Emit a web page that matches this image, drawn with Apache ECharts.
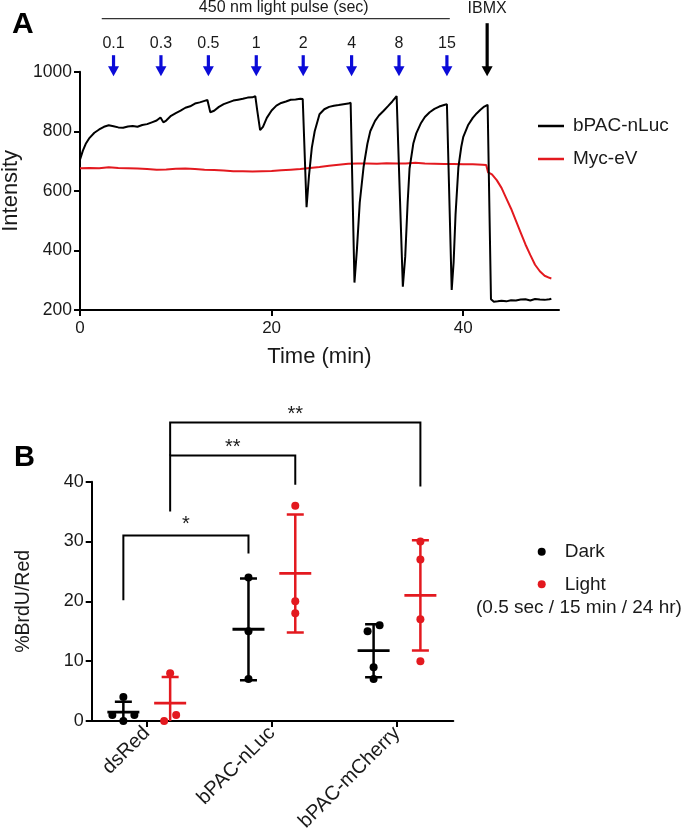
<!DOCTYPE html>
<html><head><meta charset="utf-8">
<script src="https://cdn.jsdelivr.net/npm/echarts@6.0.0/dist/echarts.min.js"></script>
<style>html,body{margin:0;padding:0;background:#fff}#c{width:693px;height:830px}</style>
</head><body><div id="c"></div>
<script>
const FONT = '"Liberation Sans", Arial, Helvetica, sans-serif';
const TXT = '#1a1a1a';
const RED = '#e3191f';
const BLUE = '#0b0bd8';

// ---------- Panel A data ----------
const bpacTrace = [
 [0,705],[0.3,735],[0.6,758],[1,778],[1.5,795],[2,806],[2.5,815],[3,820],[3.5,817],[4,813],
 [4.5,812],[5,816],[5.5,818],[6,815],[6.5,821],[7,824],[7.5,830],[8,836],[8.4,846],[8.7,830],
 [9,836],[9.5,852],[10,861],[10.5,869],[11,879],[11.5,884],[12,893],[12.5,897],[13,902],[13.3,905],
 [13.6,864],[14,869],[14.5,882],[15,891],[15.5,897],[16,903],[16.5,906],[17,909],[17.5,913],[18,914],
 [18.3,918],[18.5,870],[18.8,804],[19.1,815],[19.5,845],[20,870],[20.5,886],[21,895],[21.5,900],[22,906],
 [22.5,907],[23,909],[23.25,908],[23.65,545],[23.9,650],[24.2,745],[24.5,800],[25,857],[25.5,874],[26,882],
 [26.5,886],[27,888],[27.5,891],[28,893],[28.25,896],[28.65,292],[28.9,400],[29.2,560],[29.6,680],[30,758],
 [30.3,800],[30.8,835],[31.2,853],[31.7,869],[32.2,886],[32.6,900],[33.05,918],[33.7,278],[33.95,380],[34.2,560],
 [34.4,675],[34.8,760],[35.1,793],[35.6,828],[36,848],[36.5,864],[37,875],[37.5,883],[38,888],[38.3,891],
 [38.8,267],[39,360],[39.2,520],[39.5,680],[39.8,748],[40,780],[40.5,820],[41,845],[41.4,860],[41.8,872],
 [42.2,883],[42.55,889],[42.9,236],[43.2,228],[43.6,229],[44,231],[44.5,229],[45,233],[45.5,232],[46,235],
 [46.5,236],[47,232],[47.5,237],[48,235],[48.5,234],[49,236],[49.2,238]
];
const mycTrace = [
 [0,676],[1,677],[2,676],[3,679],[4,677],[5,676],[6,675],[7,673],[8,671],[9,672],[10,674],[11,675],
 [12,673],[13,671],[14,670],[15,668],[16,666],[17,666],[18,665],[19,666],[20,667],[21,669],[22,671],
 [23,673],[24,677],[25,680],[26,684],[27,688],[28,691],[29,692],[30,692],[31,691],[32,693],[33,692],
 [34,692],[35,694],[36,692],[37,691],[38,690],[39,690],[40,689],[41,689],[42,688],[42.4,687],[42.6,662],
 [43,655],[43.5,636],[44,610],[44.5,575],[45,540],[45.5,500],[46,460],[46.5,420],[47,385],[47.5,352],
 [48,330],[48.5,315],[49,308],[49.2,306]
];
const pulseTimes = [3.5, 8.45, 13.4, 18.4, 23.3, 28.35, 33.3, 38.3];
const pulseLabels = ['0.1','0.3','0.5','1','2','4','8','15'];
const ibmxTime = 42.5;
const pulseSpan = [2.27, 38.6];
const timeTicks = [0, 20, 40];

// ---------- Panel B data ----------
const categories = ['dsRed', 'bPAC-nLuc', 'bPAC-mCherry'];
const darkValues = [[4,1,1,0],[24,15,7],[16,15,9,7]];
const lightValues = [[8,1,0],[36,20,18],[30,27,17,10]];
const brackets = [
 {from:[0,'dark'], to:[1,'dark'], y0:20.2, top:31, y1:28, labelY:33.6, label:'*'},
 {from:[0,'light'], to:[1,'light'], y0:35, top:44.4, y1:39.5, labelY:46.4, label:'**'},
 {from:[0,'light'], to:[2,'light'], y0:44.4, top:49.9, y1:39.2, labelY:51.9, label:'**'}
];

const GROUP_OFF = 0.187;
function groupX(ci, cond){ return ci + (cond === 'dark' ? -GROUP_OFF : GROUP_OFF); }
function mean(a){ return a.reduce((s,v)=>s+v,0)/a.length; }
function sd(a){ const m = mean(a); return Math.sqrt(a.reduce((s,v)=>s+(v-m)*(v-m),0)/(a.length-1)); }
function jitter(vals){
  const idx = vals.map((v,i)=>i).sort((a,b)=>vals[a]-vals[b]);
  const out = new Array(vals.length).fill(0);
  const clusters = []; let cur = [idx[0]];
  for (let k=1;k<idx.length;k++){
    if (vals[idx[k]] - vals[idx[k-1]] < 1.4) cur.push(idx[k]); else { clusters.push(cur); cur=[idx[k]]; }
  }
  clusters.push(cur);
  clusters.forEach(c=>{
    if (c.length===2){ out[c[0]] = -0.048; out[c[1]] = 0.048; }
    else if (c.length===3){ out[c[0]] = 0; out[c[1]] = -0.088; out[c[2]] = 0.088; }
  });
  return out;
}
function scatterData(groups, cond){
  const d = [];
  groups.forEach((vals, ci)=>{
    const j = jitter(vals);
    vals.forEach((v,i)=> d.push([groupX(ci,cond)+j[i], v]));
  });
  return d;
}
function statData(groups, cond){
  return groups.map((vals, ci)=> [groupX(ci,cond), mean(vals), sd(vals)]);
}
function errRender(color){
  return function(params, api){
    const x = api.value(0), m = api.value(1), s = api.value(2);
    const c = api.coord([x, m]), t = api.coord([x, m+s]), b = api.coord([x, m-s]);
    const st = {stroke: color, lineWidth: 2.5, fill: null};
    return {type:'group', children:[
      {type:'line', shape:{x1:c[0], y1:t[1], x2:c[0], y2:b[1]}, style:st},
      {type:'line', shape:{x1:c[0]-8.5, y1:t[1], x2:c[0]+8.5, y2:t[1]}, style:st},
      {type:'line', shape:{x1:c[0]-8.5, y1:b[1], x2:c[0]+8.5, y2:b[1]}, style:st},
      {type:'line', shape:{x1:c[0]-16, y1:c[1], x2:c[0]+16, y2:c[1]}, style:{stroke: color, lineWidth: 2.8}}
    ]};
  };
}

const chart = echarts.init(document.getElementById('c'), null, {renderer:'canvas'});
const axisCommon = {
  axisLine:{show:true, onZero:false, lineStyle:{color:'#000', width:2}},
  axisTick:{show:true, length:6, lineStyle:{color:'#000', width:2}},
  splitLine:{show:false},
};

chart.setOption({
  backgroundColor:'#fff',
  animation:false,
  textStyle:{fontFamily:FONT},
  grid:[
    {left:80, top:71.7, width:479, height:238.3, containLabel:false, outerBoundsMode:'none'},
    {left:91.7, top:481.7, width:361.6, height:239.3, containLabel:false, outerBoundsMode:'none'}
  ],
  xAxis:[
    Object.assign({}, axisCommon, {
      gridIndex:0, type:'value', min:0, max:50,
      axisTick:{show:true, length:6, customValues:timeTicks, lineStyle:{color:'#000', width:2}},
      axisLabel:{customValues:timeTicks, fontSize:17, color:TXT, margin:10, fontFamily:FONT},
      name:'Time (min)', nameLocation:'middle', nameGap:36,
      nameTextStyle:{fontSize:22, color:TXT, fontFamily:FONT}
    }),
    Object.assign({}, axisCommon, {
      gridIndex:1, type:'value', min:-0.44, max:2.45,
      axisTick:{show:true, length:6, customValues:[0,1,2], lineStyle:{color:'#000', width:2}},
      axisLabel:{customValues:[0,1,2], rotate:45, fontSize:20, color:TXT, margin:9, fontFamily:FONT,
        formatter: v => categories[Math.round(v)]}
    })
  ],
  yAxis:[
    Object.assign({}, axisCommon, {
      gridIndex:0, type:'value', min:200, max:1000, interval:200,
      axisLabel:{fontSize:17.5, color:TXT, margin:8, fontFamily:FONT, formatter: v => String(v)},
      name:'Intensity', nameLocation:'middle', nameGap:56,
      nameTextStyle:{fontSize:22, color:TXT, fontFamily:FONT}
    }),
    Object.assign({}, axisCommon, {
      gridIndex:1, type:'value', min:0, max:40, interval:10,
      axisLabel:{fontSize:18, color:TXT, margin:8, fontFamily:FONT, formatter: v => String(v)},
      name:'%BrdU/Red', nameLocation:'middle', nameGap:58,
      nameTextStyle:{fontSize:19.5, color:TXT, fontFamily:FONT}
    })
  ],
  legend:[
    {data:['bPAC-nLuc','Myc-eV'], orient:'vertical', left:533, top:111, icon:'rect',
     itemWidth:26, itemHeight:2.5, itemGap:13, selectedMode:false,
     textStyle:{fontSize:19, lineHeight:20, color:TXT, fontFamily:FONT, padding:[0,0,0,4]}},
    {data:['Dark','Light'], orient:'vertical', left:532.7, top:536.7, icon:'circle',
     itemWidth:8, itemHeight:8, itemGap:12.6, selectedMode:false,
     textStyle:{fontSize:19, lineHeight:20, color:TXT, fontFamily:FONT, padding:[0,0,0,14]}}
  ],
  graphic:[
    {type:'text', left:12, top:10, style:{text:'A', font:'bold 30px '+FONT, fill:'#000'}},
    {type:'text', left:14, top:443, style:{text:'B', font:'bold 29px '+FONT, fill:'#000'}},
    {type:'text', left:476, top:598, style:{text:'(0.5 sec / 15 min / 24 hr)', font:'19px '+FONT, fill:TXT}}
  ],
  series:[
    {name:'bPAC-nLuc', type:'line', xAxisIndex:0, yAxisIndex:0, data:bpacTrace, showSymbol:false,
     color:'#000', lineStyle:{color:'#000', width:2}, z:3},
    {name:'Myc-eV', type:'line', xAxisIndex:0, yAxisIndex:0, data:mycTrace, showSymbol:false,
     color:RED, lineStyle:{color:RED, width:2}, z:2},
    {name:'pulses', type:'custom', xAxisIndex:0, yAxisIndex:0, clip:false,
     data: pulseTimes.map((t,i)=>[t, 1000, i]),
     renderItem:(params, api)=>{
       const p = api.coord([api.value(0), api.value(1)]);
       const x = p[0], tip = p[1] + 4.5;
       return {type:'group', children:[
         {type:'rect', shape:{x:x-1.6, y:tip-21, width:3.2, height:12}, style:{fill:BLUE}},
         {type:'polygon', shape:{points:[[x-5.5,tip-10],[x+5.5,tip-10],[x,tip]]}, style:{fill:BLUE}},
         {type:'text', style:{text:pulseLabels[api.value(2)], x:x, y:tip-33, textAlign:'center',
           textVerticalAlign:'middle', font:'16px '+FONT, fill:TXT}}
       ]};
     }},
    {name:'ibmx', type:'custom', xAxisIndex:0, yAxisIndex:0, clip:false,
     data:[[ibmxTime, 1000]],
     renderItem:(params, api)=>{
       const p = api.coord([api.value(0), api.value(1)]);
       const x = p[0], tip = p[1] + 4.5;
       return {type:'group', children:[
         {type:'rect', shape:{x:x-1.6, y:tip-53, width:3.2, height:44}, style:{fill:'#000'}},
         {type:'polygon', shape:{points:[[x-5.5,tip-10],[x+5.5,tip-10],[x,tip]]}, style:{fill:'#000'}},
         {type:'text', style:{text:'IBMX', x:x, y:tip-68, textAlign:'center',
           textVerticalAlign:'middle', font:'16px '+FONT, fill:TXT}}
       ]};
     }},
    {name:'pulseTitle', type:'custom', xAxisIndex:0, yAxisIndex:0, clip:false,
     data:[[pulseSpan[0], 1000, pulseSpan[1]]],
     renderItem:(params, api)=>{
       const a = api.coord([api.value(0), api.value(1)]);
       const b = api.coord([api.value(2), api.value(1)]);
       const y = a[1] - 53;
       return {type:'group', children:[
         {type:'line', shape:{x1:a[0], y1:y, x2:b[0], y2:y}, style:{stroke:'#333', lineWidth:1.3}},
         {type:'text', style:{text:'450 nm light pulse (sec)', x:(a[0]+b[0])/2+8, y:y-11, textAlign:'center',
           textVerticalAlign:'middle', font:'16px '+FONT, fill:TXT}}
       ]};
     }},
    // Panel B
    {name:'Dark SD', type:'custom', xAxisIndex:1, yAxisIndex:1, clip:true,
     data:statData(darkValues,'dark'), renderItem:errRender('#000'), z:2},
    {name:'Light SD', type:'custom', xAxisIndex:1, yAxisIndex:1, clip:true,
     data:statData(lightValues,'light'), renderItem:errRender(RED), z:2},
    {name:'Dark', type:'scatter', xAxisIndex:1, yAxisIndex:1, data:scatterData(darkValues,'dark'),
     symbolSize:8, color:'#000', itemStyle:{color:'#000', opacity:1}, z:4, clip:false},
    {name:'Light', type:'scatter', xAxisIndex:1, yAxisIndex:1, data:scatterData(lightValues,'light'),
     symbolSize:8, color:RED, itemStyle:{color:RED, opacity:1}, z:4, clip:false},
    {name:'brackets', type:'custom', xAxisIndex:1, yAxisIndex:1, clip:false,
     data: brackets.map((b,i)=>[groupX(b.from[0], b.from[1]), b.top, i]),
     renderItem:(params, api)=>{
       const b = brackets[api.value(2)];
       const x0 = groupX(b.from[0], b.from[1]), x1 = groupX(b.to[0], b.to[1]);
       const p0 = api.coord([x0, b.y0]), p1 = api.coord([x0, b.top]);
       const p2 = api.coord([x1, b.top]), p3 = api.coord([x1, b.y1]);
       const lp = api.coord([(x0+x1)/2, b.labelY]);
       return {type:'group', children:[
         {type:'polyline', shape:{points:[p0,p1,p2,p3]}, style:{stroke:'#000', lineWidth:2, fill:null}},
         {type:'text', style:{text:b.label, x:lp[0], y:lp[1]+4, textAlign:'center',
           textVerticalAlign:'middle', font:'20px '+FONT, fill:TXT}}
       ]};
     }}
  ]
});
</script></body></html>
